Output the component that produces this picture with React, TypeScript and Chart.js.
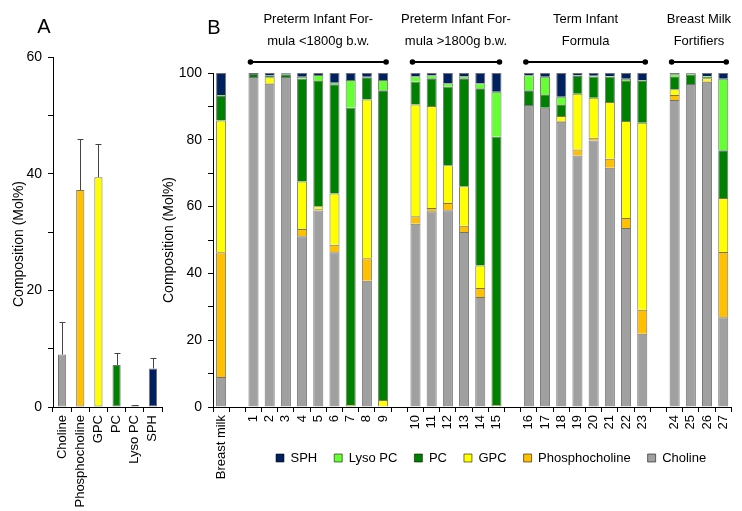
import { useEffect, useRef } from 'react';
import { Chart, registerables } from 'chart.js';
Chart.register(...registerables);

const FONT = "'Liberation Sans', Arial, sans-serif";

// Panel A
const componentNames = ['Choline', 'Phosphocholine', 'GPC', 'PC', 'Lyso PC', 'SPH'];
const meanValues = [9.0, 37.2, 39.4, 7.2, 0.3, 6.6];
const errValues = [5.5, 8.7, 5.7, 2.1, 0.1, 1.8];
const componentColors = ['#A0A0A0', '#FFC000', '#FFFF00', '#008000', '#66FF33', '#002060'];
const yTicksA = [0, 20, 40, 60];
const yTitle = 'Composition (Mol%)';

// Panel B
const sampleLabels = ['Breast milk', '', '1', '2', '3', '4', '5', '6', '7', '8', '9', '', '10', '11', '12', '13', '14', '15', '', '16', '17', '18', '19', '20', '21', '22', '23', '', '24', '25', '26', '27'];
const cholineValues = [9.0, null, 98.8, 96.8, 98.8, 51.1, 58.8, 46.3, 0.3, 37.8, 0, null, 54.9, 58.6, 58.9, 52.4, 32.9, 0, null, 90.4, 89.6, 85.4, 75.3, 79.8, 71.6, 53.6, 21.9, null, 91.9, 96.7, 97.4, 26.9];
const phosValues = [37.3, null, 0, 0.2, 0, 2.2, 0.4, 2.3, 0.3, 6.7, 0.2, null, 2.2, 1.0, 2.2, 1.9, 2.7, 0.2, null, 0, 0, 0.2, 1.8, 0.8, 2.7, 3.0, 7.2, null, 1.5, 0, 0.2, 19.5];
const gpcValues = [39.5, null, 0, 1.7, 0, 14.2, 0.9, 15.3, 0, 47.6, 1.9, null, 33.5, 30.5, 11.3, 11.8, 6.8, 0.4, null, 0, 0, 1.5, 16.7, 12.0, 17.0, 29.0, 56.0, null, 1.7, 0, 0.8, 16.2];
const pcValues = [7.3, null, 0.9, 0.6, 0.8, 30.8, 37.5, 32.7, 89.0, 6.6, 92.7, null, 6.8, 8.3, 23.5, 32.3, 53.0, 80.3, null, 4.4, 3.8, 3.3, 5.3, 6.3, 7.6, 12.0, 12.5, null, 3.7, 2.7, 0.5, 14.3];
const lysoValues = [0.3, null, 0, 0.1, 0.2, 0.6, 1.8, 0.5, 8.3, 0.2, 3.1, null, 1.6, 0.9, 1.0, 0.6, 1.5, 13.5, null, 4.5, 5.5, 2.5, 0.2, 0.3, 0.2, 0.7, 0.3, null, 0.8, 0.4, 0.2, 21.4];
const sphValues = [6.6, null, 0.3, 0.6, 0.2, 1.1, 0.6, 2.9, 2.1, 1.1, 2.1, null, 1.0, 0.7, 3.1, 1.0, 3.1, 5.6, null, 0.7, 1.1, 7.1, 0.7, 0.8, 0.9, 1.7, 2.1, null, 0.4, 0.2, 0.9, 1.7];
const yTicksB = [0, 20, 40, 60, 80, 100];

const groupHeaders = [
  { lines: ['Preterm Infant For-', 'mula <1800g b.w.'], from: '1', to: '9' },
  { lines: ['Preterm Infant For-', 'mula >1800g b.w.'], from: '10', to: '15' },
  { lines: ['Term Infant', 'Formula'], from: '16', to: '23' },
  { lines: ['Breast Milk', 'Fortifiers'], from: '24', to: '27' },
];

const BORDER = 'rgba(0,0,0,0.55)';

const errorBarPlugin = {
  id: 'errorBars',
  afterDatasetsDraw(chart: any) {
    const ctx = chart.ctx;
    const y = chart.scales.y;
    const meta = chart.getDatasetMeta(0);
    ctx.save();
    ctx.strokeStyle = '#444';
    ctx.lineWidth = 1;
    meta.data.forEach((bar: any, i: number) => {
      const y0 = y.getPixelForValue(meanValues[i]);
      const y1 = y.getPixelForValue(meanValues[i] + errValues[i]);
      const x = Math.round(bar.x) + 0.5;
      ctx.beginPath();
      ctx.moveTo(x, y0);
      ctx.lineTo(x, Math.round(y1) + 0.5);
      ctx.moveTo(x - 3, Math.round(y1) + 0.5);
      ctx.lineTo(x + 3, Math.round(y1) + 0.5);
      ctx.stroke();
    });
    ctx.restore();
  },
};

const yTitleAPlugin = {
  id: 'yTitleA',
  afterDraw(chart: any) {
    const ctx = chart.ctx;
    const ca = chart.chartArea;
    ctx.save();
    ctx.fillStyle = '#000';
    ctx.font = '14px ' + FONT;
    ctx.textAlign = 'center';
    ctx.textBaseline = 'middle';
    ctx.translate(19, (ca.top + ca.bottom) / 2 + 12);
    ctx.rotate(-Math.PI / 2);
    ctx.fillText(yTitle, 0, 0);
    ctx.restore();
  },
};

const panelLetterPlugin = (letter: string, dx: number, yPos: number) => ({
  id: 'panelLetter' + letter,
  afterDraw(chart: any) {
    const ctx = chart.ctx;
    ctx.save();
    ctx.fillStyle = '#000';
    ctx.font = "20px 'Liberation Sans', Arial, sans-serif";
    ctx.textAlign = 'center';
    ctx.textBaseline = 'middle';
    ctx.fillText(letter, chart.chartArea.left + dx, yPos);
    ctx.restore();
  },
});

const headerPlugin = {
  id: 'groupHeaders',
  afterDraw(chart: any) {
    const ctx = chart.ctx;
    const x = chart.scales.x;
    ctx.save();
    ctx.fillStyle = '#000';
    ctx.strokeStyle = '#000';
    ctx.font = '13px ' + FONT;
    ctx.textAlign = 'center';
    ctx.textBaseline = 'middle';
    groupHeaders.forEach((g) => {
      const x1 = x.getPixelForValue(sampleLabels.indexOf(g.from)) - 3;
      const x2 = x.getPixelForValue(sampleLabels.indexOf(g.to)) + 3;
      const cx = (x1 + x2) / 2;
      ctx.fillText(g.lines[0], cx, 19);
      ctx.fillText(g.lines[1], cx, 41);
      ctx.lineWidth = 2;
      ctx.beginPath();
      ctx.moveTo(x1, 62);
      ctx.lineTo(x2, 62);
      ctx.stroke();
      [x1, x2].forEach((px) => {
        ctx.beginPath();
        ctx.arc(px, 62, 2.8, 0, Math.PI * 2);
        ctx.fill();
      });
    });
    ctx.restore();
  },
};

const legendPlacePlugin = {
  id: 'legendPlace',
  afterLayout(chart: any) {
    const xs = chart.scales.x;
    if (xs) {
      xs.bottom = chart.height;
      xs.height = xs.bottom - xs.top;
    }
    const lg = chart.legend;
    if (!lg || !lg.lineWidths) return;
    const pad = lg.options.labels.padding;
    const start = (lg.left + pad + lg.right - lg.lineWidths[0]) / 2;
    const delta = 126 - start;
    lg.left += delta;
    lg.right += delta;
    const h = lg.height;
    lg.top = 458 - pad - 6.5;
    lg.bottom = lg.top + h;
  },
};

export default function App() {
  const refA = useRef<HTMLCanvasElement>(null);
  const refB = useRef<HTMLCanvasElement>(null);

  useEffect(() => {
    const tickFont = { family: FONT, size: 14 };
    const labelFont = { family: FONT, size: 13 };
    const titleFont = { family: FONT, size: 14 };
    const axisGrid = { display: true, drawOnChartArea: false, drawTicks: true, tickLength: 5, color: '#000', lineWidth: 1 };

    const chartA = new Chart(refA.current as HTMLCanvasElement, {
      type: 'bar',
      data: {
        labels: componentNames,
        datasets: [
          {
            data: meanValues,
            backgroundColor: componentColors,
            borderColor: BORDER,
            borderWidth: 1,
            borderSkipped: false,
            barPercentage: 0.45,
            categoryPercentage: 1,
          },
        ],
      },
      options: {
        responsive: false,
        animation: false,
        devicePixelRatio: 1,
        layout: { padding: { left: 0, right: 18, top: 57, bottom: 0 } },
        plugins: { legend: { display: false }, tooltip: { enabled: false } },
        scales: {
          x: {
            grid: axisGrid,
            border: { display: true, color: '#000' },
            ticks: { color: '#000', font: labelFont, minRotation: 90, maxRotation: 90, autoSkip: false, padding: 3 },
            afterFit: (s: any) => { s.height = 104; },
          },
          y: {
            min: 0,
            max: 60,
            grid: axisGrid,
            border: { display: true, color: '#000' },
            ticks: {
              stepSize: 10,
              color: '#000',
              font: tickFont,
              padding: 6,
              callback: (v: any) => (yTicksA.includes(Number(v)) ? String(v) : ''),
            },
            title: { display: false, text: yTitle },
            afterFit: (s: any) => { s.width = 53; },
          },
        },
      },
      plugins: [errorBarPlugin, yTitleAPlugin, panelLetterPlugin('A', -9, 27)],
    } as any);

    const mk = (label: string, data: (number | null)[], color: string) => ({
      label,
      data,
      backgroundColor: color,
      borderColor: BORDER,
      borderWidth: 1,
      barPercentage: 0.62,
      categoryPercentage: 1,
    });

    const chartB = new Chart(refB.current as HTMLCanvasElement, {
      type: 'bar',
      data: {
        labels: sampleLabels,
        datasets: [
          mk('Choline', cholineValues, componentColors[0]),
          mk('Phosphocholine', phosValues, componentColors[1]),
          mk('GPC', gpcValues, componentColors[2]),
          mk('PC', pcValues, componentColors[3]),
          mk('Lyso PC', lysoValues, componentColors[4]),
          mk('SPH', sphValues, componentColors[5]),
        ],
      },
      options: {
        responsive: false,
        animation: false,
        devicePixelRatio: 1,
        layout: { padding: { left: 0, right: 10, top: 73, bottom: 0 } },
        plugins: {
          tooltip: { enabled: false },
          legend: {
            position: 'bottom',
            reverse: true,
            labels: { boxWidth: 8, boxHeight: 8, padding: 17, color: '#000', font: labelFont },
          },
        },
        scales: {
          x: {
            stacked: true,
            grid: axisGrid,
            border: { display: true, color: '#000' },
            ticks: { color: '#000', font: labelFont, minRotation: 90, maxRotation: 90, autoSkip: false, padding: 3 },
            afterFit: (s: any) => {
              const lh = s.chart.legend ? s.chart.legend.height || 0 : 0;
              s.height = s.chart.height - 407 - lh;
            },
          },
          y: {
            stacked: true,
            min: 0,
            max: 100,
            grid: axisGrid,
            border: { display: true, color: '#000' },
            ticks: {
              stepSize: 10,
              color: '#000',
              font: tickFont,
              padding: 6,
              callback: (v: any) => (yTicksB.includes(Number(v)) ? String(v) : ''),
            },
            title: { display: true, text: yTitle, color: '#000', font: titleFont, padding: { top: 11, bottom: 0 } },
            afterFit: (s: any) => { s.width = 63; },
          },
        },
      },
      plugins: [headerPlugin, legendPlacePlugin, panelLetterPlugin('B', 1, 28)],
    } as any);

    return () => {
      chartA.destroy();
      chartB.destroy();
    };
  }, []);

  return (
    <div style={{ position: 'absolute', left: 0, top: 0, width: 742, height: 511, overflow: 'hidden', background: '#fff' }}>
      <canvas ref={refA} width={180} height={511} style={{ position: 'absolute', left: 0, top: 0 }} />
      <canvas ref={refB} width={592} height={511} style={{ position: 'absolute', left: 150, top: 0 }} />
    </div>
  );
}
